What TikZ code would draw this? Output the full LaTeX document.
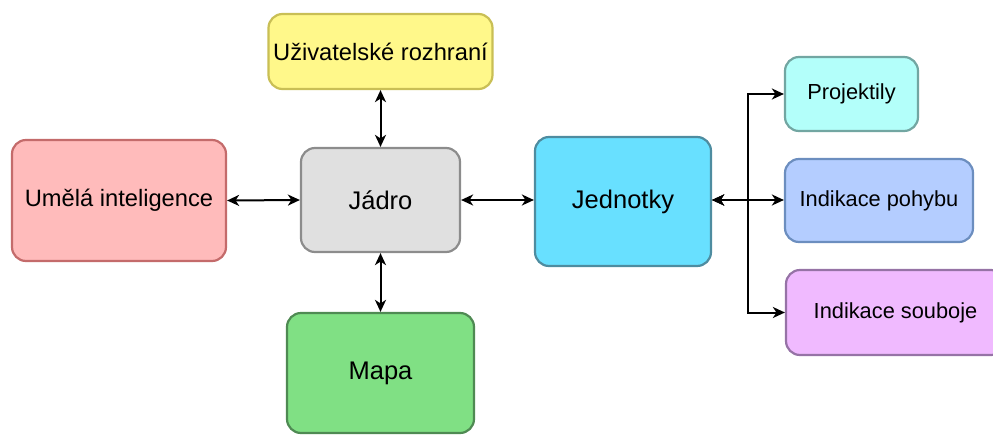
\documentclass[tikz,border=0pt]{standalone}
\usepackage{fontspec}
\setmainfont{Liberation Sans}
\usetikzlibrary{arrows.meta}

\definecolor{urfill}{HTML}{FFF88A}\definecolor{urline}{HTML}{C9BF55}
\definecolor{jafill}{HTML}{E0E0E0}\definecolor{jaline}{HTML}{8C8C8C}
\definecolor{aifill}{HTML}{FFBBBB}\definecolor{ailine}{HTML}{C46B6B}
\definecolor{jefill}{HTML}{68E0FF}\definecolor{jeline}{HTML}{4E8CA0}
\definecolor{mafill}{HTML}{80E084}\definecolor{maline}{HTML}{4F8A53}
\definecolor{prfill}{HTML}{B3FFFA}\definecolor{prline}{HTML}{72A6A2}
\definecolor{pofill}{HTML}{B4CDFF}\definecolor{poline}{HTML}{6C8EBF}
\definecolor{sofill}{HTML}{F0BAFF}\definecolor{soline}{HTML}{9673A6}

\tikzset{
  x=1pt, y=-1pt,
  box/.style={draw, line width=2.2pt, rounded corners=14pt, align=center,
    inner sep=0pt, text=black},
  small/.style={font=\fontsize{21.8}{26}\selectfont},
  mid/.style={font=\fontsize{23.7}{28}\selectfont},
  big/.style={font=\fontsize{25.5}{30}\selectfont},
  tip/.style={Stealth[length=12pt,width=11pt,inset=3.5pt]},
  link/.style={line width=2pt, {Stealth[length=12pt,width=11pt,inset=3.5pt]}-{Stealth[length=12pt,width=11pt,inset=3.5pt]}},
}

\begin{document}
\begin{tikzpicture}
\useasboundingbox (0,0) rectangle (993,434);

% central core and its neighbours
\node[box, big, fill=jafill, draw=jaline, minimum width=159pt, minimum height=104pt] (jadro) at (380.5,200) {Jádro};
\node[box, mid, fill=urfill, draw=urline, minimum width=224pt, minimum height=75pt] (ur) at (380.5,51.5) {Uživatelské rozhraní};
\node[box, mid, fill=aifill, draw=ailine, minimum width=214pt, minimum height=121pt] (ai) at (119,200.5) {Umělá inteligence};
\node[box, big, fill=jefill, draw=jeline, minimum width=176pt, minimum height=129pt] (jed) at (623,201.5) {Jednotky};
\node[box, big, fill=mafill, draw=maline, minimum width=187pt, minimum height=120pt] (mapa) at (380.5,373) {Mapa};

% unit sub-components
\node[box, small, fill=prfill, draw=prline, minimum width=133pt, minimum height=74pt] (proj) at (851.5,94) {Projektily};
\node[box, small, fill=pofill, draw=poline, minimum width=188pt, minimum height=83pt] (poh) at (879,200.5) {Indikace pohybu};
\node[box, small, fill=sofill, draw=soline, minimum width=219pt, minimum height=85pt] (soub) at (895.5,312.5) {Indikace souboje};

% connectors
\draw[link] (ur.south) -- (jadro.north);
\draw[link] (jadro.south) -- (mapa.north);
\draw[link] (ai.east) -- (jadro.west);
\draw[link] (jadro.east) -- (jadro.east -| jed.west);

\coordinate (fork) at (748,200);
\draw[link] (jed.east |- fork) -- (fork) |- (proj.west);
\draw[link] (jed.east |- fork) -- (poh.west |- fork);
\draw[link] (jed.east |- fork) -- (fork) |- (soub.west);
\end{tikzpicture}
\end{document}
